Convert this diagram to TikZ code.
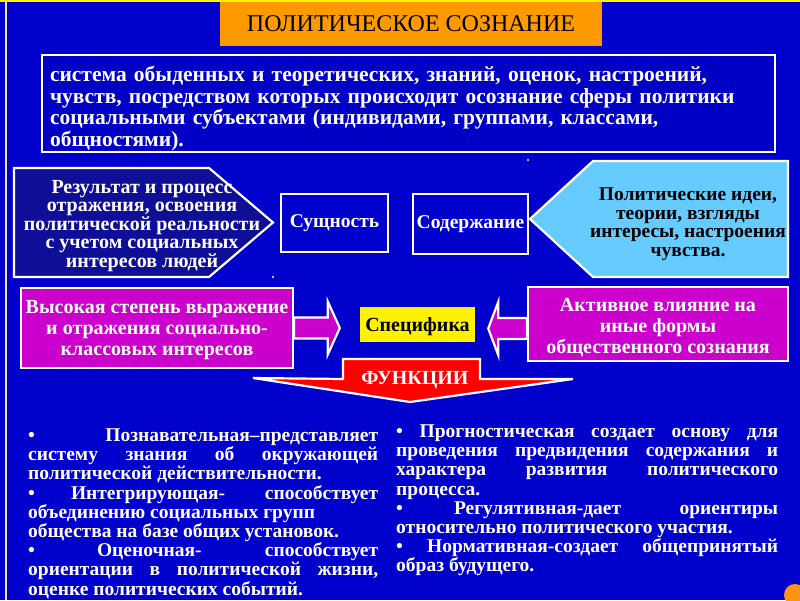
\documentclass[tikz,border=0pt]{standalone}
\usepackage{fontspec}
\setmainfont{Liberation Serif}
\usetikzlibrary{calc}
\definecolor{bgblue}{RGB}{0,0,204}
\definecolor{defblue}{RGB}{0,0,196}
\definecolor{navyfill}{RGB}{14,14,150}
\definecolor{titleorange}{RGB}{255,153,0}
\definecolor{lightblue}{RGB}{102,204,255}
\definecolor{mag}{RGB}{204,0,204}
\definecolor{cream}{RGB}{240,228,170}
\definecolor{dotorange}{RGB}{250,150,20}
\tikzset{
  wline/.style={draw=white, line width=2.2pt, line join=miter},
  wbox/.style={wline, inner sep=0pt, align=center},
  txt/.style={inner sep=0pt, align=center, text=white, font=\bfseries\fontsize{20}{18.5}\selectfont},
  btxt/.style={inner sep=0pt, align=center, text=black, font=\bfseries\fontsize{19.5}{18.5}\selectfont},
  magbox/.style={wline, fill=mag, inner sep=0pt},
  magtxt/.style={inner sep=0pt, align=center, text=white, font=\bfseries\fontsize{20}{21.3}\selectfont},
  para/.style={inner sep=0pt, align=left, anchor=north west, text=white, font=\bfseries\fontsize{19.5}{19.2}\selectfont},
}
\begin{document}
\begin{tikzpicture}[x=1pt,y=-1pt]
\useasboundingbox (0,0) rectangle (800,600);
\fill[bgblue] (0,0) rectangle (800,600);
\draw[cream, line width=2pt] (6,0) -- (6,600);
\draw[yellow, line width=2.5pt] (0,1.2) -- (800,1.2);

% title
\node[fill=titleorange, minimum width=382pt, minimum height=44pt, inner sep=0pt,
      font=\fontsize{24}{26}\selectfont] (title) at (411,24) {ПОЛИТИЧЕСКОЕ СОЗНАНИЕ};

% definition
\node[wline, fill=defblue, minimum width=733pt, minimum height=97pt, inner sep=0pt] (def) at (408.5,103.5) {};
\node[inner sep=0pt, text width=720pt, align=left, text=white,
      font=\bfseries\fontsize{21.5}{21.5}\selectfont] (deftext) at (410,108.5)
 {система обыденных и теоретических, знаний, оценок, настроений,\\
  чувств, посредством которых происходит осознание сферы политики\\
  социальными субъектами (индивидами, группами, классами,\\
  общностями).};

% left pentagon
\draw[wline, fill=navyfill] (14,168) -- (209,168) -- (273,222.5) -- (209,277) -- (14,277) -- cycle;
\node[txt] (essL) at (142,226) {Результат и процесс\\отражения, освоения\\политической реальности\\с учетом социальных\\интересов людей};

% right pentagon
\draw[wline, fill=lightblue] (530,219) -- (593,161) -- (788,161) -- (788,277) -- (593,277) -- cycle;
\node[btxt] (contR) at (688,224) {Политические идеи,\\теории, взгляды\\интересы, настроения\\чувства.};

% boxes
\node[wbox, minimum width=107pt, minimum height=58pt, text=white,
      font=\bfseries\fontsize{19.5}{20}\selectfont] (ess) at (334.5,223) {Сущность};
\node[wbox, minimum width=115pt, minimum height=60pt, text=white,
      font=\bfseries\fontsize{19.5}{20}\selectfont] (cont) at (470.5,224) {Содержание};

\fill[white] (273,277) circle (1.2pt);
\fill[white] (528,160) circle (1.2pt);

% magenta boxes
\node[magbox, minimum width=272pt, minimum height=80pt] (lm) at (157,328) {};
\node[magtxt] (lmtext) at (157,330)
 {Высокая степень выражение\\и отражения социально-\\классовых интересов};
\node[magbox, minimum width=260pt, minimum height=74pt] (rm) at (658,324) {};
\node[magtxt] (rmtext) at (658,327.5)
 {Активное влияние на\\иные формы\\общественного сознания};

% specifika
\node[fill=yellow, minimum width=115pt, minimum height=35pt, inner sep=0pt] (spec) at (417.5,324.5) {};
\node[inner sep=0pt, font=\bfseries\fontsize{20}{20}\selectfont] (spectext) at (417.5,326.5) {Специфика};

% block arrows
\coordinate (a1s) at (lm.east |- 0,328);
\coordinate (a1t) at ($(spec.west |- 0,328)+(-20,0)$);
\draw[wline, fill=mag] ($(a1s)+(0,-10.5)$) -- ($(a1t)+(-12,-10.5)$) -- ($(a1t)+(-12,-26.5)$) -- (a1t)
   -- ($(a1t)+(-12,26.5)$) -- ($(a1t)+(-12,10.5)$) -- ($(a1s)+(0,10.5)$) -- cycle;
\coordinate (a2s) at (rm.west |- 0,328.5);
\coordinate (a2t) at ($(spec.east |- 0,328.5)+(13,0)$);
\draw[wline, fill=mag] ($(a2s)+(0,-10.5)$) -- ($(a2t)+(10,-10.5)$) -- ($(a2t)+(10,-26.5)$) -- (a2t)
   -- ($(a2t)+(10,26.5)$) -- ($(a2t)+(10,10.5)$) -- ($(a2s)+(0,10.5)$) -- cycle;

% functions banner
\draw[wline, fill=red] (343,359) -- (480,359) -- (480,379) -- (573,379) -- (410,402)
   -- (253,378) -- (343,379) -- cycle;
\node[inner sep=0pt, text=white, font=\bfseries\fontsize{20}{20}\selectfont] (func) at (415,380) {ФУНКЦИИ};

% bottom paragraphs
\node[para] (funcL) at (28,428.5) {%
\makebox[350pt][s]{•\hfill Познавательная–представляет}\\
\makebox[350pt][s]{систему знания об окружающей}\\
\makebox[350pt][l]{политической действительности.}\\
\makebox[350pt][l]{•\hspace{36pt}Интегрирующая-\hfill способствует}\\
\makebox[350pt][l]{объединению социальных групп}\\
\makebox[350pt][l]{общества на базе общих установок.}\\
\makebox[350pt][l]{•\hspace{62pt}Оценочная-\hfill способствует}\\
\makebox[350pt][s]{ориентации в политической жизни,}\\
\makebox[350pt][l]{оценке политических событий.}};

\node[para] (funcR) at (396,424.5) {%
\makebox[382pt][s]{• Прогностическая создает основу для}\\
\makebox[382pt][s]{проведения предвидения содержания и}\\
\makebox[382pt][s]{характера развития политического}\\
\makebox[382pt][l]{процесса.}\\
\makebox[382pt][l]{•\hspace{51pt}Регулятивная-дает\hfill ориентиры}\\
\makebox[382pt][l]{относительно политического участия.}\\
\makebox[382pt][s]{• Нормативная-создает общепринятый}\\
\makebox[382pt][l]{образ будущего.}};

\fill[dotorange] (795,595) circle (11pt);
\end{tikzpicture}
\end{document}
